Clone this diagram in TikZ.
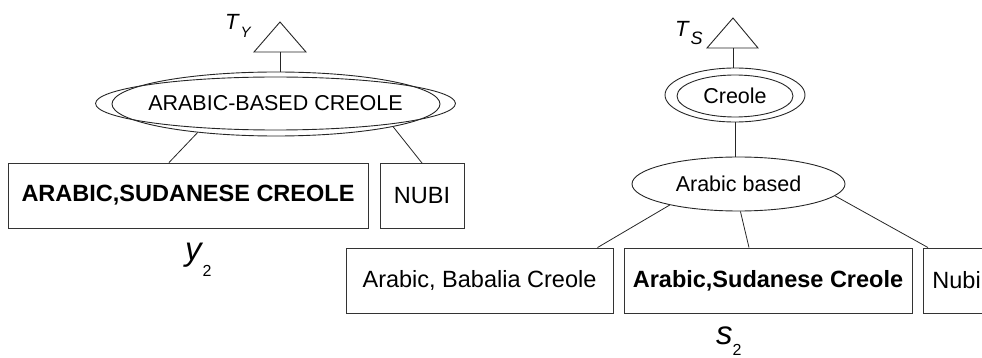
\documentclass[tikz,border=0pt]{standalone}
\usepackage{fontspec}
\setmainfont{Liberation Sans}
\usetikzlibrary{shapes.geometric,calc}
\begin{document}
\begin{tikzpicture}[x=1pt,y=-1pt,
  edge/.style={draw=black!85, line width=0.8pt},
  oval/.style={draw=black!85, line width=0.9pt, ellipse, inner sep=0pt,
    font=\fontsize{21.5}{24}\selectfont},
  leafbox/.style={draw=black!80, line width=0.9pt, rectangle, inner sep=0pt,
    minimum height=65pt, font=\fontsize{23.5}{26}\selectfont},
  boldbox/.style={leafbox, font=\fontsize{23.5}{26}\selectfont\bfseries},
  hat/.style={draw=black!85, line width=0.9pt, line join=miter},
  lbl/.style={inner sep=0pt, anchor=base west, font=\fontsize{22}{24}\selectfont\itshape},
  biglbl/.style={inner sep=0pt, anchor=base west, font=\fontsize{33}{36}\selectfont\itshape},
]
\clip (0,0) rectangle (982,358);

% ---- left tree: T_Y ----
\draw[hat] (280,22) -- (306,52) -- (254,52) -- cycle;
\coordinate (triY) at (280,52);
\node[lbl] (tY) at (225,30) {T\kern2pt\raisebox{-8pt}{\fontsize{15}{15}\selectfont Y}};

\node[oval, minimum width=328pt, minimum height=64pt] (outerY) at (276,104) {};
\node[oval, minimum width=275pt, minimum height=53pt] (innerY) at (275.5,103.5) {ARABIC-BASED CREOLE};

\node[boldbox, minimum width=360pt] (sudY) at (188,195.5) {ARABIC,SUDANESE CREOLE};
\node[leafbox, minimum width=84pt] (nubiY) at (422,196) {NUBI};

\draw[edge] (triY) -- (triY |- outerY.north);
\draw[edge] (outerY.200) -- ([xshift=-19pt]sudY.north);
\draw[edge] (outerY.349) -- (nubiY.north);

\node[biglbl] (yLbl) at (185,260) {y\kern1pt\raisebox{-16pt}{\fontsize{16}{16}\selectfont\upshape 2}};

% ---- right tree: T_S ----
\draw[hat] (733,18) -- (758,48) -- (707,48) -- cycle;
\coordinate (triS) at (733,48);
\node[lbl] (tS) at (675,37) {T\kern2pt\raisebox{-8pt}{\fontsize{18}{18}\selectfont S}};

\node[oval, minimum width=140pt, minimum height=54pt] (outerS) at (735,95) {};
\node[oval, minimum width=116pt, minimum height=42pt] (innerS) at (735,96) {Creole};
\node[oval, minimum width=213pt, minimum height=54pt] (arabS) at (738.5,184) {Arabic based};

\node[leafbox, minimum width=267pt] (babS) at (479.5,280.5) {Arabic, Babalia Creole};
\node[boldbox, minimum width=288pt] (sudS) at (768,280.5) {Arabic,Sudanese Creole};
\node[leafbox, anchor=west, text width=60pt, align=left, inner xsep=9pt] (nubiS) at (923,280.5) {Nubi};

\draw[edge] (triS) -- (triS |- outerS.north);
\draw[edge] (outerS.south) -- (outerS.south |- arabS.north);
\draw[edge] (arabS.197) -- ([xshift=118pt]babS.north);
\draw[edge] (arabS.274) -- ([xshift=-19pt]sudS.north);
\draw[edge] (arabS.353) -- ([xshift=5pt]nubiS.north west);

\node[biglbl] (sLbl) at (716,344) {s\raisebox{-11pt}{\fontsize{16}{16}\selectfont\upshape 2}};
\end{tikzpicture}
\end{document}
